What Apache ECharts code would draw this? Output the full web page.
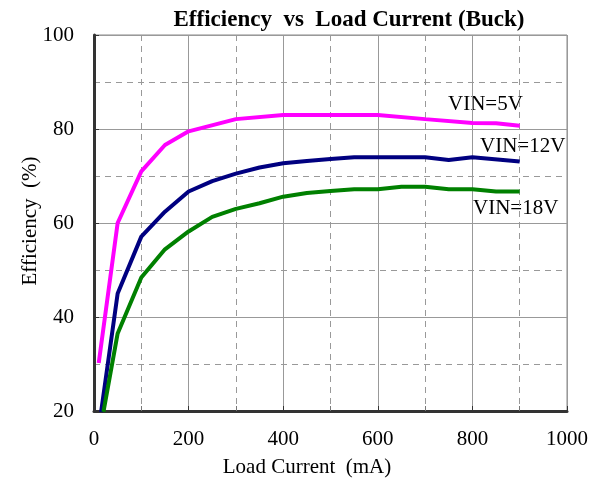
<!DOCTYPE html>
<html><head><meta charset="utf-8">
<script src="https://cdn.jsdelivr.net/npm/echarts@6/dist/echarts.min.js"></script>
<style>html,body{margin:0;padding:0;background:#fff}#c{width:605px;height:485px}</style>
</head><body><div id="c"></div>
<script>
var vin5 = [[10,30.2],[50,60],[100,71],[150,76.6],[200,79.5],[300,82.1],[400,83],[500,83],[600,83],[700,82.1],[800,81.3],[850,81.2],[900,80.7]];
var vin12 = [[15,19.8],[50,45],[100,57.1],[150,62.4],[200,66.7],[250,68.9],[300,70.5],[350,71.8],[400,72.7],[450,73.2],[500,73.6],[550,74],[600,74],[700,74],[750,73.4],[800,74],[900,73.1]];
var vin18 = [[20,19.8],[50,36.5],[100,48.4],[150,54.4],[200,58.2],[250,61.3],[300,63],[350,64.2],[400,65.6],[450,66.4],[500,66.8],[550,67.2],[600,67.2],[650,67.7],[700,67.7],[750,67.2],[800,67.2],[850,66.7],[900,66.7]];
var seriesNames = ['VIN=5V','VIN=12V','VIN=18V'];
var colors = ['#FF00FF','#000080','#008000'];
var titleText = 'Efficiency  vs  Load Current (Buck)';
var xName = 'Load Current  (mA)';
var yName = 'Efficiency  (%)';

var font = '"Liberation Serif","Times New Roman",serif';
var chart = echarts.init(document.getElementById('c'));
function mk(name, data, color){
  return {name:name,type:'line',data:data,symbol:'none',smooth:false,
    lineStyle:{color:color,width:4},itemStyle:{color:color},clip:true,z:5};
}
chart.setOption({
  animation:false,
  backgroundColor:'#fff',
  grid:{left:94,right:38,top:35,bottom:74,show:true,borderColor:'#888',borderWidth:1},
  xAxis:{type:'value',min:0,max:1000,interval:200,
    axisLine:{show:true,lineStyle:{color:'#333',width:3}},
    axisTick:{show:true,inside:true,length:5,lineStyle:{color:'#333'}},
    minorTick:{show:true,splitNumber:2,length:5,lineStyle:{color:'#777'}},
    axisLabel:{fontFamily:font,fontSize:21,color:'#000',margin:18,formatter:function(v){return String(v);}},
    splitLine:{show:true,lineStyle:{color:'#999',width:1}},
    minorSplitLine:{show:true,lineStyle:{color:'#999',width:1,type:[6,5]}}},
  yAxis:{type:'value',min:20,max:100,interval:20,
    axisLine:{show:true,lineStyle:{color:'#333',width:3}},
    axisTick:{show:true,inside:true,length:5,lineStyle:{color:'#333'}},
    minorTick:{show:false,splitNumber:2},
    axisLabel:{fontFamily:font,fontSize:21,color:'#000',margin:20},
    splitLine:{show:true,lineStyle:{color:'#999',width:1}},
    minorSplitLine:{show:true,lineStyle:{color:'#999',width:1,type:[6,5]}}},
  graphic:[
    {type:'text',x:349,y:20,style:{text:titleText,font:'bold 23px '+font,fill:'#000',align:'center',verticalAlign:'middle'}},
    {type:'text',x:307,y:467,style:{text:xName,font:'21px '+font,fill:'#000',align:'center',verticalAlign:'middle'}},
    {type:'text',x:30,y:221,rotation:Math.PI/2,style:{text:yName,font:'21px '+font,fill:'#000',align:'center',verticalAlign:'middle'}},
    {type:'text',x:448,y:104,style:{text:seriesNames[0],font:'21px '+font,fill:'#000',verticalAlign:'middle'}},
    {type:'text',x:480,y:146,style:{text:seriesNames[1],font:'21px '+font,fill:'#000',verticalAlign:'middle'}},
    {type:'text',x:473,y:208,style:{text:seriesNames[2],font:'21px '+font,fill:'#000',verticalAlign:'middle'}}
  ],
  series:[mk(seriesNames[0],vin5,colors[0]),mk(seriesNames[1],vin12,colors[1]),mk(seriesNames[2],vin18,colors[2])]
});
</script></body></html>
